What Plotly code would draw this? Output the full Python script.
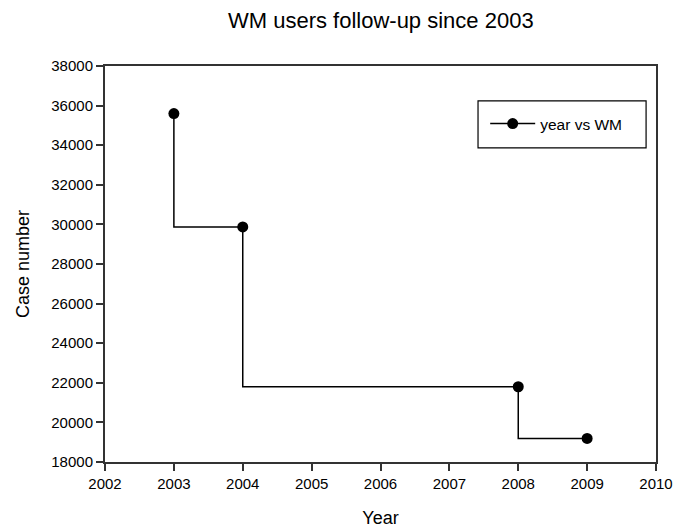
import plotly.graph_objects as go

years = [2003, 2004, 2008, 2009]
cases = [35600, 29870, 21800, 19190]
x_ticks = list(range(2002, 2011))
y_ticks = list(range(18000, 38001, 2000))

FONT = "Liberation Sans, Arial"

fig = go.Figure()
fig.add_trace(go.Scatter(
    x=years, y=cases, mode="lines+markers", name="year vs WM",
    line=dict(shape="vh", color="black", width=1.5),
    marker=dict(color="black", size=11),
))

axis_common = dict(
    showline=True, linecolor="#333333", linewidth=2, mirror=True,
    ticks="outside", ticklen=7, tickwidth=1.5, tickcolor="#333333",
    showgrid=False, zeroline=False, automargin=False,
    tickfont=dict(family=FONT, size=15, color="black"),
)

# legend frame (drawn as a shape to get the larger padding of the original)
fig.add_shape(type="rect", xref="paper", yref="paper",
              x0=0.677, x1=0.982, y0=0.793, y1=0.912,
              line=dict(color="black", width=1.2), fillcolor="white", layer="below")

fig.update_layout(
    width=674, height=529,
    margin=dict(l=105, r=18, t=66, b=67),
    paper_bgcolor="white", plot_bgcolor="white",
    title=dict(text="WM users follow-up since 2003", x=0.565, xanchor="center", y=0.962, yanchor="middle",
               font=dict(family=FONT, size=22, color="black")),
    xaxis=dict(range=[2002, 2010], tickvals=x_ticks, ticktext=[str(v) for v in x_ticks],
               title=dict(text="Year", standoff=20, font=dict(family=FONT, size=18, color="black")),
               **axis_common),
    yaxis=dict(range=[18000, 38000], tickvals=y_ticks, ticktext=[str(v) for v in y_ticks],
               title=dict(text="Case number", standoff=17, font=dict(family=FONT, size=18, color="black")),
               **axis_common),
    showlegend=True,
    legend=dict(x=0.690, y=0.8535, xanchor="left", yanchor="middle",
                borderwidth=0, bgcolor="rgba(0,0,0,0)",
                font=dict(family=FONT, size=15.5, color="black"),
                itemwidth=45),
)

fig.write_html("out.html", config={"displayModeBar": False},
               post_script="document.body.style.margin='0px';")
